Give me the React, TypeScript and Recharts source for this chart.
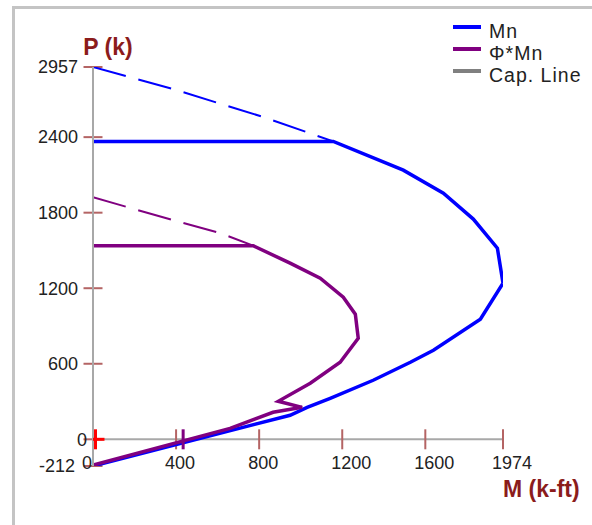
import React from 'react';
import { ComposedChart, Line, Scatter, XAxis, YAxis, ReferenceLine } from 'recharts';

// axis ticks
const M_TICKS = [0, 400, 800, 1200, 1600, 1974];
const P_TICKS = [-212, 0, 600, 1200, 1800, 2400, 2957];

// nominal interaction curve (Mn), including the horizontal cap
const MN_M = [0, 949, 1031, 1142, 1349, 1528, 1639, 1865, 1974, 1947, 1831, 1687, 1494, 1157, 0];
const MN_P = [-212, 191, 254, 326, 469, 612, 707, 954, 1240, 1518, 1749, 1955, 2138, 2366, 2366];

// dashed part above the cap
const MN_TOP_M = [0, 386, 819, 1157];
const MN_TOP_P = [2957, 2782, 2560, 2366];

// design curve (Phi*Mn)
const PHI_M = [0, 660, 867, 1007, 892, 1046, 1190, 1277, 1263, 1205, 1094, 949, 771, 0];
const PHI_P = [-205, 87, 215, 254, 302, 445, 612, 803, 994, 1129, 1280, 1399, 1538, 1538];

const PHI_TOP_M = [0, 386, 612, 771];
const PHI_TOP_P = [1922, 1741, 1638, 1538];

// markers on the moment axis
const LOAD_POINT = [{ m: 12, p: 0 }];
const PHI_MARK = [{ m: 434, p: 0 }];

const LEGEND = [
  { name: 'Mn', color: '#0000ff' },
  { name: 'Φ*Mn', color: '#800080' },
  { name: 'Cap. Line', color: '#808080' },
];

const zip = (ms: number[], ps: number[]) => ms.map((m, i) => ({ m, p: ps[i] }));

const mn = zip(MN_M, MN_P);
const mnTop = zip(MN_TOP_M, MN_TOP_P);
const phi = zip(PHI_M, PHI_P);
const phiTop = zip(PHI_TOP_M, PHI_TOP_P);

const W = 592;
const H = 525;
const MARGIN = { top: 67, right: 89, bottom: 29, left: 13 };
const Y_AXIS_W = 80;
const X_AXIS_H = 30;
const M_MIN = 0;
const M_MAX = 1974;
const P_MIN = -212;
const P_MAX = 2957;

const plotW = W - MARGIN.left - MARGIN.right - Y_AXIS_W;
const plotH = H - MARGIN.top - MARGIN.bottom - X_AXIS_H;
const mPerPx = (M_MAX - M_MIN) / plotW;
const pPerPx = (P_MAX - P_MIN) / plotH;

const TICK_COLOR = '#b46464';
const TITLE_COLOR = '#8b1c1c';
const FONT = '"Liberation Sans", Arial, sans-serif';

const YTick = ({ x, y, payload }: any) => {
  const v = payload.value;
  const dx = v === 0 ? 9 : v === -212 ? -3 : 0;
  return (
    <text x={x + dx} y={y} dy="0.35em" textAnchor="end" fontSize={18} fill="#222" fontFamily={FONT}>
      {v}
    </text>
  );
};

const XTick = ({ x, y, payload }: any) => (
  <text x={x - 11} y={y} dy={2.5} textAnchor="start" fontSize={18} fill="#222" fontFamily={FONT}>
    {payload.value}
  </text>
);

const Cross = ({ cx, cy }: any) => (
  <g stroke="#ff0000" strokeWidth={3}>
    <line x1={cx - 8} y1={cy} x2={cx + 9} y2={cy} />
    <line x1={cx} y1={cy - 10} x2={cx} y2={cy + 10} />
  </g>
);

const Bar = ({ cx, cy }: any) => (
  <line x1={cx} y1={cy - 10} x2={cx} y2={cy + 10} stroke="#800080" strokeWidth={3} />
);

export default function App() {
  const dm = 9.5 * mPerPx;
  const dp = 10 * pPerPx;
  return (
    <div style={{ position: 'absolute', left: 0, top: 0, width: W, height: H, overflow: 'hidden', background: '#fff' }}>
      <div
        style={{
          position: 'absolute',
          left: 12,
          top: 6,
          width: 800,
          height: 800,
          border: '3px solid #c4c4c4',
          boxSizing: 'border-box',
        }}
      />
      <div style={{ position: 'absolute', left: 0, top: 0 }}>
        <ComposedChart width={W} height={H} margin={MARGIN}>
          <XAxis
            type="number"
            dataKey="m"
            domain={[M_MIN, M_MAX]}
            ticks={M_TICKS}
            interval={0}
            height={X_AXIS_H}
            axisLine={false}
            tickLine={false}
            tickSize={0}
            tickMargin={0}
            tick={<XTick />}
            allowDataOverflow
            label={{
              content: ({ viewBox }: any) => (
                <text
                  x={viewBox.x + viewBox.width}
                  y={viewBox.y + 31}
                  textAnchor="start"
                  fontSize={23}
                  fontWeight="bold"
                  fill={TITLE_COLOR}
                  fontFamily={FONT}
                >
                  M (k-ft)
                </text>
              ),
            }}
          />
          <YAxis
            type="number"
            dataKey="p"
            domain={[P_MIN, P_MAX]}
            ticks={P_TICKS}
            interval={0}
            width={Y_AXIS_W}
            axisLine={{ stroke: '#a8a8a8', strokeWidth: 2 }}
            tickLine={false}
            tickSize={0}
            tickMargin={15}
            tick={<YTick />}
            allowDataOverflow
            label={{
              content: ({ viewBox }: any) => (
                <text
                  x={viewBox.x + viewBox.width + 15}
                  y={viewBox.y - 12}
                  textAnchor="middle"
                  fontSize={23}
                  fontWeight="bold"
                  fill={TITLE_COLOR}
                  fontFamily={FONT}
                >
                  P (k)
                </text>
              ),
            }}
          />
          <ReferenceLine y={0} stroke="#a8a8a8" strokeWidth={2} />
          {M_TICKS.filter((v) => v > 0).map((v) => (
            <ReferenceLine
              key={'mt' + v}
              segment={[{ x: v, y: -dp }, { x: v, y: dp }]}
              stroke={TICK_COLOR}
              strokeWidth={2}
              ifOverflow="visible"
            />
          ))}
          {P_TICKS.map((v) => (
            <ReferenceLine
              key={'pt' + v}
              segment={[{ x: -dm, y: v }, { x: dm, y: v }]}
              stroke={TICK_COLOR}
              strokeWidth={2}
              ifOverflow="visible"
            />
          ))}
          <Line
            data={mnTop}
            dataKey="p"
            type="linear"
            stroke="#0000ff"
            strokeWidth={2}
            strokeDasharray="34 13"
            dot={false}
            isAnimationActive={false}
          />
          <Line
            data={phiTop}
            dataKey="p"
            type="linear"
            stroke="#800080"
            strokeWidth={2}
            strokeDasharray="34 13"
            dot={false}
            isAnimationActive={false}
          />
          <Line
            data={mn}
            dataKey="p"
            type="linear"
            stroke="#0000ff"
            strokeWidth={3.5}
            dot={false}
            isAnimationActive={false}
          />
          <Line
            data={phi}
            dataKey="p"
            type="linear"
            stroke="#800080"
            strokeWidth={3.5}
            dot={false}
            isAnimationActive={false}
          />
          <Scatter data={PHI_MARK} dataKey="p" shape={<Bar />} isAnimationActive={false} />
          <Scatter data={LOAD_POINT} dataKey="p" shape={<Cross />} isAnimationActive={false} />
        </ComposedChart>
      </div>
      <div style={{ position: 'absolute', left: 453, top: 20, fontFamily: FONT, fontSize: 19.5, color: '#222' }}>
        {LEGEND.map((item) => (
          <div key={item.name} style={{ position: 'relative', height: 22, lineHeight: '22px', whiteSpace: 'nowrap' }}>
            <span
              style={{
                position: 'absolute',
                left: 0,
                top: 5,
                width: 28,
                height: 4,
                background: item.color,
              }}
            />
            <span style={{ position: 'absolute', left: 36, top: 0, letterSpacing: 1 }}>{item.name}</span>
          </div>
        ))}
      </div>
    </div>
  );
}
